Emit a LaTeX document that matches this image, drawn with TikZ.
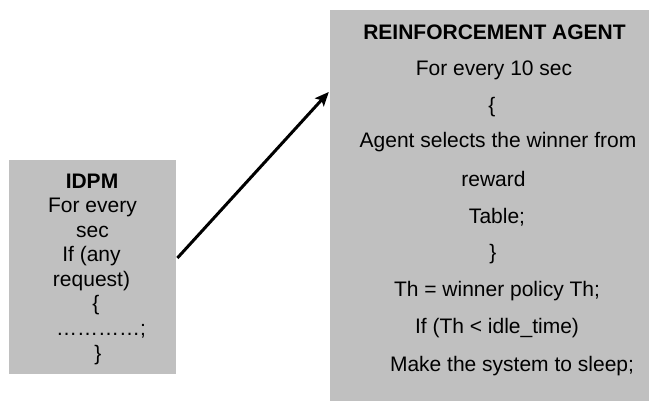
\documentclass[tikz,border=0pt]{standalone}
\usepackage{fontspec}
\setmainfont{Liberation Sans}
\usetikzlibrary{arrows.meta,calc}
\definecolor{boxgray}{RGB}{192,192,192}
\begin{document}
\begin{tikzpicture}[x=1pt,y=-1pt,
  box/.style={rectangle, fill=boxgray, draw=none, inner sep=0pt},
  txt/.style={anchor=base, inner sep=0pt, font=\fontsize{21}{25}\selectfont},
  boldtxt/.style={anchor=base, inner sep=0pt, font=\fontsize{21}{25}\selectfont\bfseries},
  conn/.style={line width=3pt, -{Stealth[length=14pt,width=12pt,inset=3pt]}}]
\useasboundingbox (0,0) rectangle (649,401);
% boxes
\node[box, minimum width=166.7pt, minimum height=214pt] (idpm) at (92.35,267) {};
\node[box, minimum width=319pt, minimum height=391pt] (agent) at (489.5,205.5) {};
% left box text
\node[boldtxt] (l1) at (92,189) {IDPM};
\node[txt] (l2) at (92.5,213) {For every};
\node[txt] (l3) at (92.5,238) {sec};
\node[txt] (l4) at (91.5,262) {If (any};
\node[txt] (l5) at (91.5,287) {request)};
\node[txt] (l6) at (96,311) {\{};
\node[txt] (l7) at (101,336) {…………;};
\node[txt] (l8) at (98,360) {\}};
% right box text
\node[boldtxt] (r1) at (494.5,40) {REINFORCEMENT AGENT};
\node[txt] (r2) at (494,76) {For every 10 sec};
\node[txt] (r3) at (492,113) {\{};
\node[txt] (r4) at (498,148) {Agent selects the winner from};
\node[txt] (r5) at (493.5,187) {reward};
\node[txt] (r6) at (497,224) {Table;};
\node[txt] (r7) at (493,260) {\}};
\node[txt] (r8) at (497,297) {Th = winner policy Th;};
\node[txt] (r9) at (497,334) {If (Th < idle\_time)};
\node[txt] (r10) at (512,371) {Make the system to sleep;};
% connector
\draw[conn] ($(idpm.east)+(1.5,-9)$) -- ($(agent.west)+(-1,-113.5)$);
\end{tikzpicture}
\end{document}
